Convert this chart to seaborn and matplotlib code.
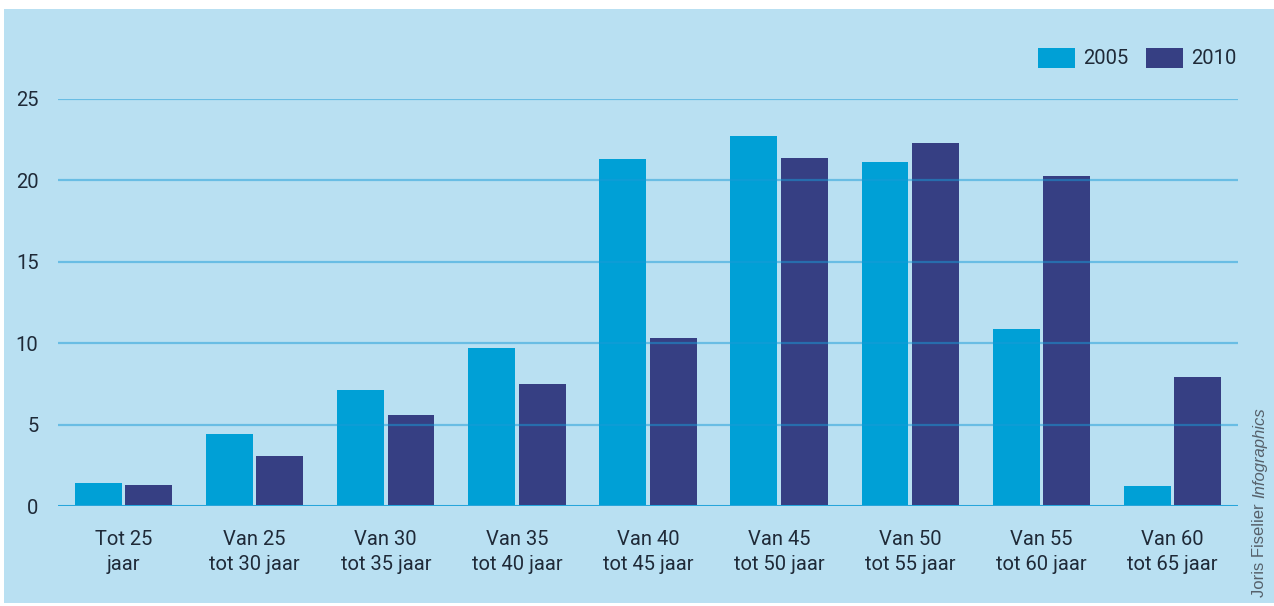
import pandas as pd
import seaborn as sns
import matplotlib.pyplot as plt
from matplotlib.patches import Rectangle

# --- Data ---
categories = ["Tot 25\njaar", "Van 25\ntot 30 jaar", "Van 30\ntot 35 jaar",
              "Van 35\ntot 40 jaar", "Van 40\ntot 45 jaar", "Van 45\ntot 50 jaar",
              "Van 50\ntot 55 jaar", "Van 55\ntot 60 jaar", "Van 60\ntot 65 jaar"]
years = ["2005", "2010"]
values_2005 = [1.4, 4.4, 7.1, 9.7, 21.3, 22.7, 21.1, 10.9, 1.2]
values_2010 = [1.3, 3.1, 5.6, 7.5, 10.3, 21.4, 22.3, 20.3, 7.9]
y_ticks = [0, 5, 10, 15, 20, 25]

# --- Style ---
BG = "#b9e0f2"
CYAN = "#00a0d6"
NAVY = "#363f83"
TEXT = "#1f2a38"
FONT = ["Roboto", "DejaVu Sans"]

sns.set_theme(style="white")
plt.rcParams["font.family"] = FONT

df = pd.DataFrame({
    "category": categories * 2,
    "year": [years[0]] * len(categories) + [years[1]] * len(categories),
    "value": values_2005 + values_2010,
})

fig = plt.figure(figsize=(12.74, 6.06), dpi=100, facecolor="white")
fig.patches.append(Rectangle((4 / 1274, 0.005), 1.0, 1 - 9 / 606 - 0.005,
                             transform=fig.transFigure, facecolor=BG,
                             edgecolor="none", zorder=-10))

# axes box: x 58..1238 px, y (from top) 99..506 px
ax = fig.add_axes([58 / 1274, 1 - 506 / 606, (1238 - 58) / 1274, (506 - 99) / 606])
ax.patch.set_visible(False)

sns.barplot(data=df, x="category", y="value", hue="year",
            palette=[CYAN, NAVY], width=0.77, gap=0.07,
            saturation=1, linewidth=0, ax=ax, zorder=2)

ax.set_xlim(-0.5, 8.5)
ax.set_ylim(0, 25)
ax.set_yticks(y_ticks)
ax.set_xlabel("")
ax.set_ylabel("")
for s in ax.spines.values():
    s.set_visible(False)

# gridlines over the bars
for t in y_ticks[1:]:
    ax.axhline(t, color="#1a9bd7", alpha=0.5, lw=1.6, zorder=3)
ax.axhline(0, color="#27a5db", lw=2.2, zorder=3)

ax.tick_params(axis="both", length=0, labelsize=14.5, labelcolor=TEXT)
ax.tick_params(axis="y", pad=14)
ax.tick_params(axis="x", pad=17)
for lbl in ax.get_xticklabels():
    lbl.set_linespacing(1.45)

ax.legend(loc="lower right", bbox_to_anchor=(0.999, 1.075), ncol=2, frameon=False,
          fontsize=14.5, labelcolor=TEXT, handlelength=1.85, handleheight=1.15,
          handletextpad=0.42, columnspacing=0.85, borderaxespad=0, borderpad=0)

# credit, rotated on the right edge
fig.canvas.draw()
renderer = fig.canvas.get_renderer()
credit_font = dict(rotation=90, ha="center", va="bottom", fontsize=12,
                   color="#56616b", family=["Liberation Sans", "DejaVu Sans"])
t1 = fig.text(1260 / 1274, 1 - 597 / 606, "Joris Fiselier", **credit_font)
bb = t1.get_window_extent(renderer)
fig.text(1260 / 1274, (bb.y1 + 5) / fig.bbox.height, "Infographics",
         style="italic", **credit_font)

fig.savefig("out.png", dpi=100, facecolor="white")
